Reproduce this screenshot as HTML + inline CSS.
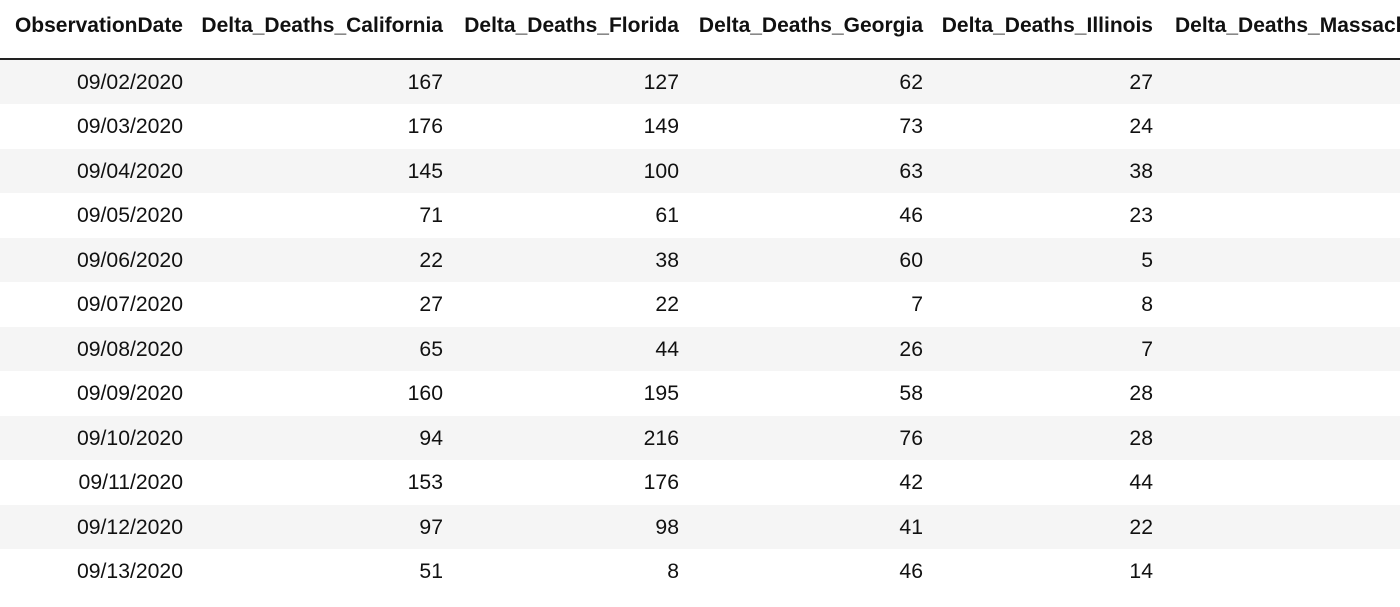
<!DOCTYPE html>
<html><head><meta charset="utf-8"><style>
body{margin:0;width:1400px;height:607px;overflow:hidden;background:#fff;font-family:"Liberation Sans",Arial,sans-serif;color:#111;position:relative}
.h{position:absolute;top:11px;font-weight:bold;font-size:21px;line-height:30px;white-space:nowrap}
.row{position:absolute;left:0;width:1400px;height:44px}
.c{position:absolute;top:1px;font-size:21.2px;line-height:44px;text-align:right;white-space:nowrap}
#hl{position:absolute;left:0;top:58px;width:1400px;height:1.5px;background:#222}
</style></head><body>
<div id="hl"></div>
<div id="hdr"></div>
<div id="body"></div>
<script>
const headers=["ObservationDate","Delta_Deaths_California","Delta_Deaths_Florida","Delta_Deaths_Georgia","Delta_Deaths_Illinois","Delta_Deaths_Massachusetts"];
const dates=["09/02/2020","09/03/2020","09/04/2020","09/05/2020","09/06/2020","09/07/2020","09/08/2020","09/09/2020","09/10/2020","09/11/2020","09/12/2020","09/13/2020"];
const california=[167,176,145,71,22,27,65,160,94,153,97,51];
const florida=[127,149,100,61,38,22,44,195,216,176,98,8];
const georgia=[62,73,63,46,60,7,26,58,76,42,41,46];
const illinois=[27,24,38,23,5,8,7,28,28,44,22,14];
const rights=[183,443,679,923,1153];
const hdr=document.getElementById('hdr');
headers.forEach((h,i)=>{
  const d=document.createElement('div');
  d.className='h';
  
  
  d.textContent=h;
  if(i<5){d.style.right=(1400-rights[i])+'px';}else{d.style.left='1175px';}
  hdr.appendChild(d);
});
const body=document.getElementById('body');
const cols=[dates,california,florida,georgia,illinois];
dates.forEach((dt,r)=>{
  const row=document.createElement('div');
  row.className='row';
  
  
  row.style.top=(60+r*44.45)+'px';
  row.style.background=r%2===0?'#f5f5f5':'#fff';
  cols.forEach((col,i)=>{
    const c=document.createElement('div');
    c.className='c';
    
    
    c.style.right=(1400-rights[i])+'px';
    c.textContent=col[r];
    row.appendChild(c);
  });
  body.appendChild(row);
});
</script>
</body></html>
